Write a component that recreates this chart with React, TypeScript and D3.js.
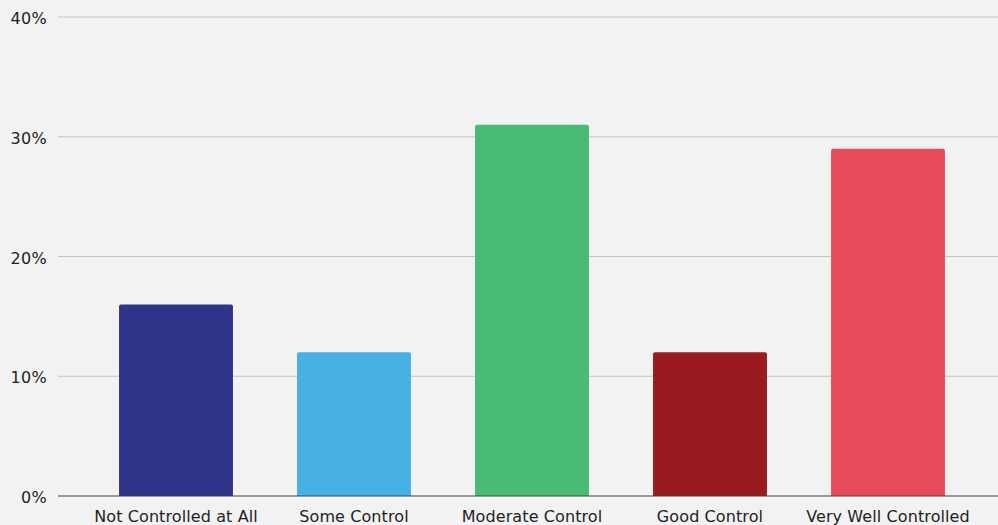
import React from "react";
import * as d3 from "d3";

const categories = [
  "Not Controlled at All",
  "Some Control",
  "Moderate Control",
  "Good Control",
  "Very Well Controlled",
];
const values = [16, 12, 31, 12, 29];
const colors = ["#2e3589", "#48b1e3", "#49bb74", "#991b1f", "#e84c5a"];
const yTicks = [0, 10, 20, 30, 40];

const W = 998;
const H = 525;
const FONT = "'DejaVu Sans', Verdana, sans-serif";

export default function App() {
  const x = d3
    .scaleBand<string>()
    .domain(categories)
    .range([87, 977])
    .paddingInner(0.36)
    .paddingOuter(0.18);
  const y = d3.scaleLinear().domain([0, 40]).range([496, 17]);

  const r = 2;
  const barPath = (x0: number, y0: number, w: number, y1: number) =>
    `M${x0},${y1} V${y0 + r} Q${x0},${y0} ${x0 + r},${y0} H${x0 + w - r} Q${x0 + w},${y0} ${x0 + w},${y0 + r} V${y1} Z`;

  return (
    <svg
      width={W}
      height={H}
      style={{ position: "absolute", left: 0, top: 0, display: "block" }}
    >
      <rect x={0} y={0} width={W} height={H} fill="#f2f2f2" />
      {yTicks.map((t) => (
        <g key={t}>
          {t !== 0 && (
            <line x1={58} x2={W} y1={y(t)} y2={y(t)} stroke="#c4c4c4" strokeWidth={1} />
          )}
          <text
            x={47}
            y={y(t) + 7}
            textAnchor="end"
            fontFamily={FONT}
            fontSize={16}
            letterSpacing={0.3}
            fill="#222"
          >
            {t}%
          </text>
        </g>
      ))}
      {categories.map((c, i) => (
        <path
          key={c}
          d={barPath(x(c)!, y(values[i]), x.bandwidth(), y(0))}
          fill={colors[i]}
        />
      ))}
      <line x1={58} x2={W} y1={y(0)} y2={y(0)} stroke="#444" strokeWidth={1.2} />
      {categories.map((c) => (
        <text
          key={c}
          x={x(c)! + x.bandwidth() / 2}
          y={521.5}
          textAnchor="middle"
          fontFamily={FONT}
          fontSize={16}
          letterSpacing={0.1}
          fill="#222"
        >
          {c}
        </text>
      ))}
    </svg>
  );
}
